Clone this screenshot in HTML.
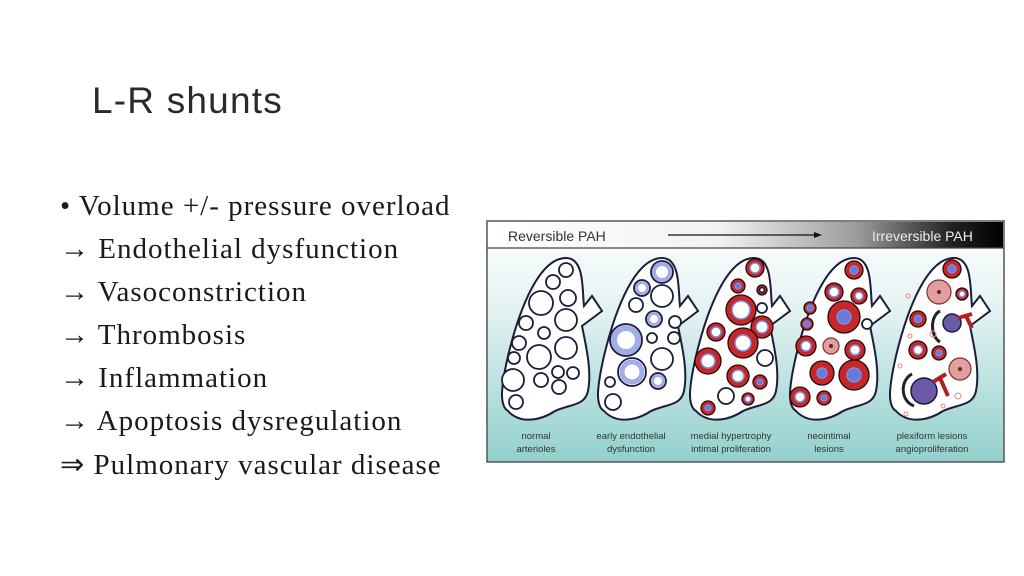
<!DOCTYPE html>
<html><head><meta charset="utf-8"><style>
html,body{margin:0;padding:0;background:#fff}
body{width:1024px;height:576px;position:relative;overflow:hidden;font-family:"Liberation Serif",serif}
.t{position:absolute;left:92px;top:80px;font-family:"Liberation Sans",sans-serif;font-size:37px;color:#2a2a2a;letter-spacing:1.2px}
.b{position:absolute;left:60px;font-size:29px;color:#1a1a1a;white-space:nowrap;letter-spacing:1px}
svg{position:absolute;left:0;top:0}
.n{fill:#fff;stroke:#1c1c3c;stroke-width:1.8}
.eo{fill:#fff;stroke:#1c1c3c;stroke-width:1.8}
.ei{fill:none;stroke:#8a9ae0;opacity:.8}
.ro{fill:#c42828;stroke:#2a0808;stroke-width:1.3}
.ri{fill:#fff;stroke:#7c8ce0;stroke-width:1.5}
.bl{fill:#6a78d8}
.pk{fill:#e0a0a0;stroke:#8a2a2a;stroke-width:1.2}
.pu{fill:#6a5aa8;stroke:#1a1a3a;stroke-width:1.5}
.lab{font-family:"Liberation Sans",sans-serif;font-size:9.5px;fill:#333;text-anchor:middle}
</style></head><body>
<div class="t">L-R shunts</div>
<div class="b" style="top:190px">• Volume +/- pressure overload</div>
<div class="b" style="top:233px">→ Endothelial dysfunction</div>
<div class="b" style="top:276px">→ Vasoconstriction</div>
<div class="b" style="top:319px">→ Thrombosis</div>
<div class="b" style="top:362px">→ Inflammation</div>
<div class="b" style="top:405px">→ Apoptosis dysregulation</div>
<div class="b" style="top:447px">⇒ Pulmonary vascular disease</div>
<svg width="1024" height="576" viewBox="0 0 1024 576">
<defs>
<linearGradient id="bg" x1="0" y1="0" x2="0" y2="1"><stop offset="0" stop-color="#ffffff"/><stop offset="0.35" stop-color="#e6f3f3"/><stop offset="1" stop-color="#92d0cc"/></linearGradient>
<linearGradient id="hd" x1="0" y1="0" x2="1" y2="0"><stop offset="0" stop-color="#fff"/><stop offset="0.45" stop-color="#f2f2f2"/><stop offset="0.72" stop-color="#9a9a9a"/><stop offset="0.9" stop-color="#222"/><stop offset="1" stop-color="#000"/></linearGradient>
<path id="lung" d="M66,2 C40,2 20,50 8,100 C0,135 0,150 8,155 C20,168 40,165 55,155 C70,148 85,150 88,135 C92,115 86,90 82,70 L102,55 L92,40 L84,50 C82,35 85,2 66,2 Z" fill="#fff" stroke="#1c1c3c" stroke-width="2"/>
</defs>
<rect x="487" y="221" width="517" height="241" fill="url(#bg)" stroke="#555" stroke-width="1.5"/>
<rect x="488" y="222" width="515" height="26" fill="url(#hd)"/>
<line x1="487" y1="248" x2="1004" y2="248" stroke="#444" stroke-width="1.2"/>
<text x="508" y="241" font-family="Liberation Sans" font-size="14" fill="#333">Reversible PAH</text>
<text x="872" y="241" font-family="Liberation Sans" font-size="14" fill="#eee">Irreversible PAH</text>
<line x1="668" y1="235" x2="815" y2="235" stroke="#111" stroke-width="1.2"/>
<polygon points="822,235 814,232 814,238" fill="#111"/>

<g transform="translate(500,256)">
<use href="#lung"/>
<circle class="n" cx="66" cy="14" r="7"/><circle class="n" cx="53" cy="26" r="7"/><circle class="n" cx="41" cy="47" r="12"/><circle class="n" cx="68" cy="42" r="8"/><circle class="n" cx="26" cy="67" r="7"/><circle class="n" cx="66" cy="64" r="11"/><circle class="n" cx="44" cy="77" r="6"/><circle class="n" cx="19" cy="87" r="7"/><circle class="n" cx="39" cy="101" r="12"/><circle class="n" cx="66" cy="92" r="11"/><circle class="n" cx="14" cy="102" r="6"/><circle class="n" cx="13" cy="124" r="11"/><circle class="n" cx="41" cy="124" r="7"/><circle class="n" cx="58" cy="116" r="6"/><circle class="n" cx="73" cy="117" r="6"/><circle class="n" cx="59" cy="131" r="7"/><circle class="n" cx="16" cy="146" r="7"/>
</g>
<g transform="translate(596,256)">
<use href="#lung"/>
<circle class="eo" cx="66" cy="16" r="11"/><circle class="ei" cx="66" cy="16" r="8" stroke-width="4"/>
<circle class="eo" cx="46" cy="32" r="8"/><circle class="ei" cx="46" cy="32" r="5.5" stroke-width="3"/>
<circle class="n" cx="66" cy="40" r="11"/><circle class="n" cx="40" cy="49" r="7"/>
<circle class="eo" cx="30" cy="84" r="16"/><circle class="ei" cx="30" cy="84" r="12" stroke-width="6"/>
<circle class="eo" cx="58" cy="63" r="8"/><circle class="ei" cx="58" cy="63" r="5.5" stroke-width="3"/>
<circle class="n" cx="79" cy="66" r="6"/><circle class="n" cx="56" cy="82" r="5"/><circle class="n" cx="78" cy="82" r="6"/>
<circle class="n" cx="66" cy="103" r="11"/>
<circle class="eo" cx="36" cy="116" r="14"/><circle class="ei" cx="36" cy="116" r="10" stroke-width="5"/>
<circle class="eo" cx="62" cy="125" r="8"/><circle class="ei" cx="62" cy="125" r="5.5" stroke-width="3"/>
<circle class="n" cx="14" cy="126" r="5"/><circle class="n" cx="17" cy="146" r="8"/>
</g>
<g transform="translate(688,256)">
<use href="#lung"/>
<circle class="ro" cx="67" cy="12" r="9"/><circle class="ri" cx="67" cy="12" r="5"/>
<circle class="ro" cx="50" cy="30" r="7"/><circle class="ri bl" cx="50" cy="30" r="3"/>
<circle class="ro" cx="74" cy="34" r="5"/><circle class="n" cx="74" cy="34" r="2.5"/>
<circle class="ro" cx="53" cy="54" r="15"/><circle class="ri" cx="53" cy="54" r="9"/>
<circle class="n" cx="74" cy="52" r="5"/>
<circle class="ro" cx="28" cy="76" r="9"/><circle class="ri" cx="28" cy="76" r="5"/>
<circle class="ro" cx="74" cy="71" r="11"/><circle class="ri" cx="74" cy="71" r="6"/>
<circle class="ro" cx="55" cy="87" r="15"/><circle class="ri" cx="55" cy="87" r="8"/>
<circle class="ro" cx="20" cy="105" r="13"/><circle class="ri" cx="20" cy="105" r="7"/>
<circle class="n" cx="77" cy="102" r="8"/>
<circle class="ro" cx="50" cy="120" r="11"/><circle class="ri" cx="50" cy="120" r="6"/>
<circle class="ro" cx="72" cy="126" r="7"/><circle class="ri bl" cx="72" cy="126" r="3"/>
<circle class="n" cx="38" cy="140" r="8"/>
<circle class="ro" cx="60" cy="143" r="6"/><circle class="ri" cx="60" cy="143" r="3"/>
<circle class="ro" cx="20" cy="152" r="7"/><circle class="ri bl" cx="20" cy="152" r="3"/>
</g>
<g transform="translate(788,256)">
<use href="#lung"/>
<circle class="ro" cx="66" cy="14" r="9"/><circle class="ri bl" cx="66" cy="14" r="4"/>
<circle class="ro" cx="46" cy="36" r="9"/><circle class="ri" cx="46" cy="36" r="5"/>
<circle class="ro" cx="71" cy="40" r="8"/><circle class="ri" cx="71" cy="40" r="4"/>
<circle class="ro" cx="22" cy="52" r="6"/><circle class="ri bl" cx="22" cy="52" r="3"/>
<circle class="ro" cx="56" cy="61" r="16"/><circle class="ri bl" cx="56" cy="61" r="7"/>
<circle class="ro" cx="19" cy="68" r="6"/><circle class="ri bl" cx="19" cy="68" r="3"/>
<circle class="n" cx="79" cy="68" r="5"/>
<circle class="ro" cx="18" cy="90" r="10"/><circle class="ri" cx="18" cy="90" r="5"/>
<circle class="pk" cx="43" cy="90" r="8"/><circle fill="#6a2020" cx="43" cy="90" r="2"/>
<circle class="ro" cx="67" cy="94" r="10"/><circle class="ri" cx="67" cy="94" r="5"/>
<circle class="ro" cx="34" cy="117" r="12"/><circle class="ri bl" cx="34" cy="117" r="5"/>
<circle class="ro" cx="66" cy="119" r="15"/><circle class="ri bl" cx="66" cy="119" r="7"/>
<circle class="ro" cx="12" cy="141" r="10"/><circle class="ri" cx="12" cy="141" r="5"/>
<circle class="ro" cx="36" cy="142" r="7"/><circle class="ri bl" cx="36" cy="142" r="3"/>
</g>
<g transform="translate(888,256)">
<use href="#lung"/>
<circle class="ro" cx="64" cy="13" r="9"/><circle class="ri bl" cx="64" cy="13" r="4"/>
<circle class="pk" cx="51" cy="36" r="12"/><circle fill="#6a2020" cx="51" cy="36" r="2"/>
<circle class="ro" cx="74" cy="38" r="6"/><circle class="ri" cx="74" cy="38" r="3"/>
<circle class="ro" cx="30" cy="63" r="8"/><circle class="ri bl" cx="30" cy="63" r="3.5"/>
<path d="M52,55 C42,60 42,80 52,86" fill="none" stroke="#222" stroke-width="3"/>
<circle class="pu" cx="64" cy="67" r="9"/>
<path d="M70,62 L84,58 M78,60 L84,72" stroke="#b02020" stroke-width="4" fill="none"/>
<circle class="ro" cx="30" cy="94" r="9"/><circle class="ri" cx="30" cy="94" r="4.5"/>
<circle class="ro" cx="51" cy="97" r="7"/><circle class="ri bl" cx="51" cy="97" r="3"/>
<circle class="pk" cx="72" cy="113" r="11"/><circle fill="#6a2020" cx="72" cy="113" r="2"/>
<path d="M24,118 C12,124 12,145 26,150" fill="none" stroke="#222" stroke-width="3"/>
<circle class="pu" cx="36" cy="135" r="13"/>
<path d="M45,126 L58,118 M52,122 L60,140" stroke="#b02020" stroke-width="4" fill="none"/>
<g fill="none" stroke="#d88" stroke-width="1"><circle cx="20" cy="40" r="2"/><circle cx="22" cy="80" r="2"/><circle cx="45" cy="78" r="3"/><circle cx="12" cy="110" r="2"/><circle cx="70" cy="140" r="3"/><circle cx="18" cy="158" r="2"/><circle cx="55" cy="150" r="2"/></g>
</g>

<text class="lab" x="536" y="439">normal</text><text class="lab" x="536" y="452">arterioles</text>
<text class="lab" x="631" y="439">early endothelial</text><text class="lab" x="631" y="452">dysfunction</text>
<text class="lab" x="731" y="439">medial hypertrophy</text><text class="lab" x="731" y="452">intimal proliferation</text>
<text class="lab" x="829" y="439">neointimal</text><text class="lab" x="829" y="452">lesions</text>
<text class="lab" x="932" y="439">plexiform lesions</text><text class="lab" x="932" y="452">angioproliferation</text>
</svg>
</body></html>
